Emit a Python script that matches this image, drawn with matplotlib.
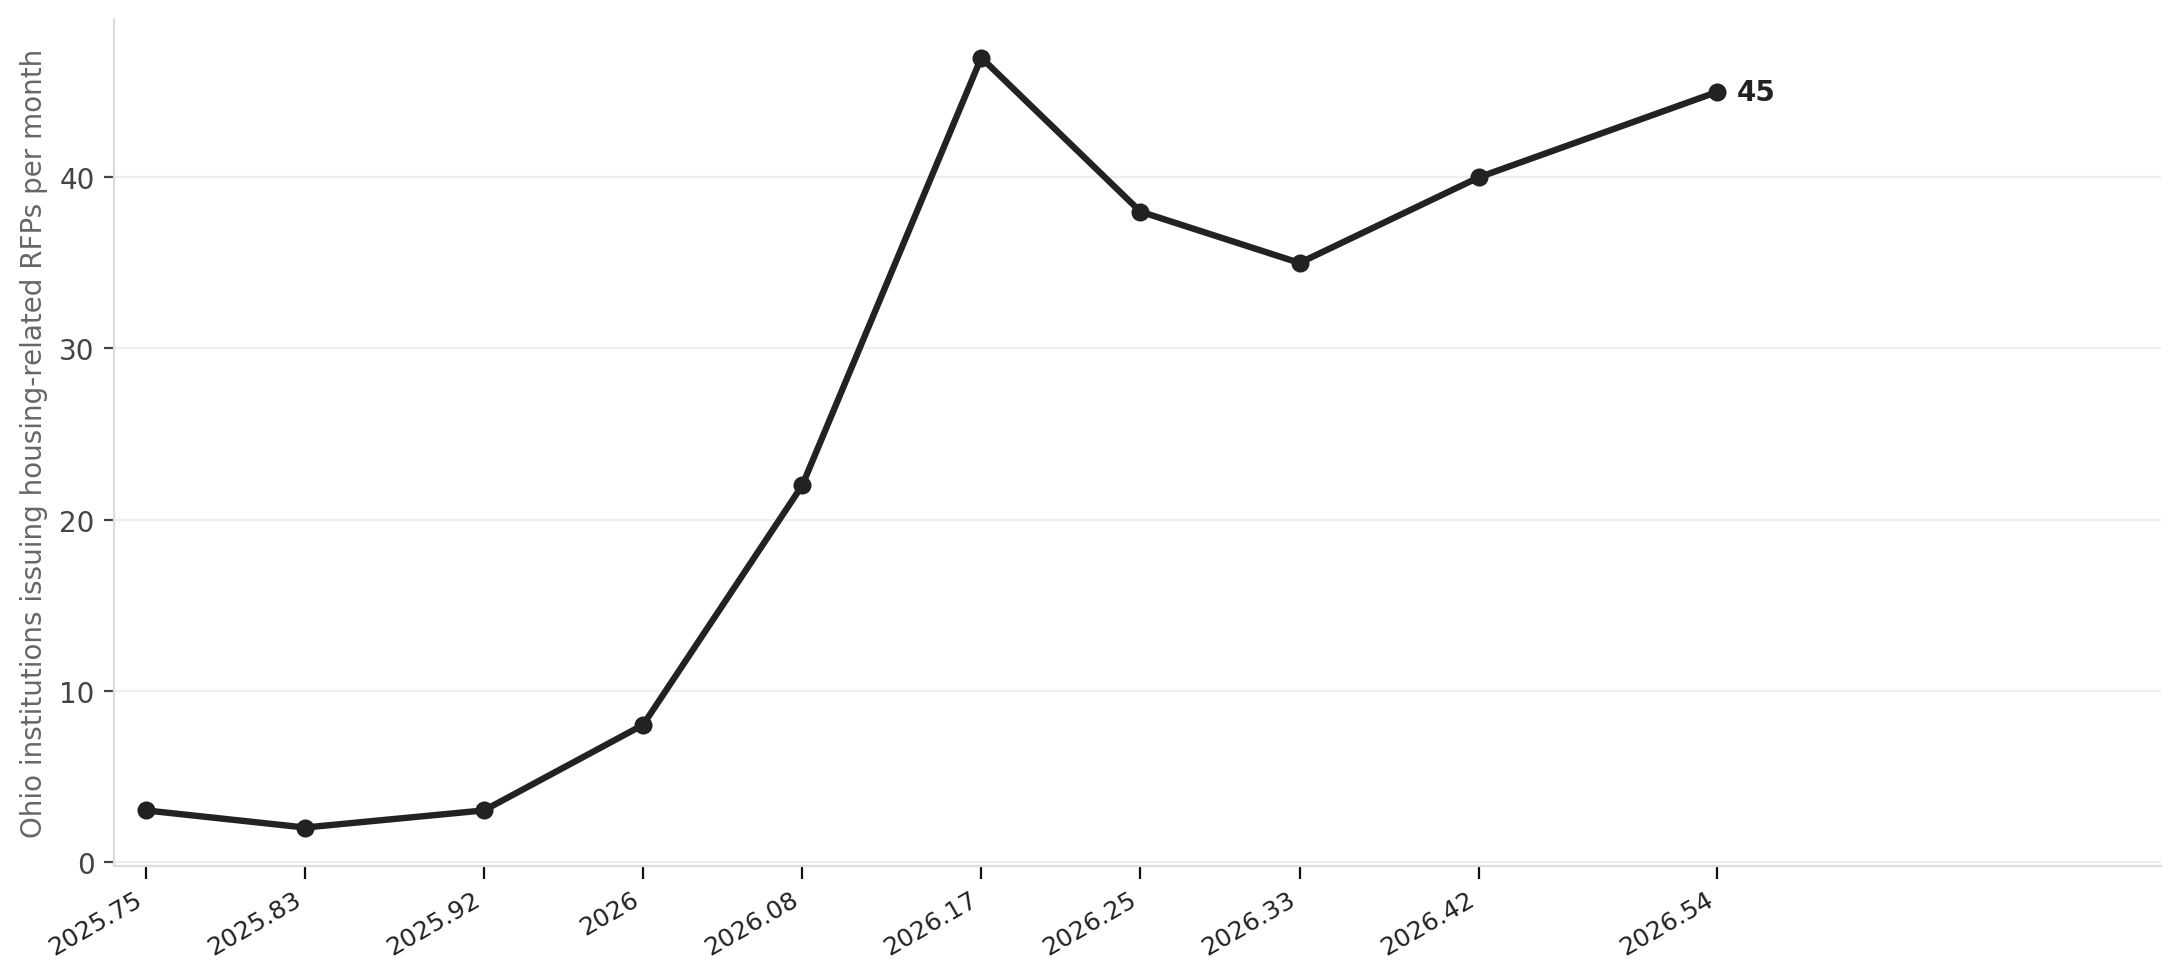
import numpy as np
import matplotlib
matplotlib.use("Agg")
import matplotlib.pyplot as plt

# data
x_vals = [2025.75, 2025.83, 2025.92, 2026.0, 2026.08, 2026.17, 2026.25, 2026.33, 2026.42, 2026.54]
x_labels = ["2025.75", "2025.83", "2025.92", "2026", "2026.08", "2026.17", "2026.25", "2026.33", "2026.42", "2026.54"]
rfp_counts = [3, 2, 3, 8, 22, 47, 38, 35, 40, 45]
y_label = "Ohio institutions issuing housing-related RFPs per month"

line_col = "#222222"

fig = plt.figure(figsize=(10.895, 4.895), dpi=200)
ax = fig.add_axes([0.0523, 0.1144, 0.9394, 0.8650])

ax.plot(x_vals, rfp_counts, color=line_col, lw=2.3, marker="o", ms=5.5, zorder=3)
ax.annotate(str(rfp_counts[-1]), (x_vals[-1], rfp_counts[-1]), xytext=(7, 0),
            textcoords="offset points", va="center", ha="left",
            fontsize=10, fontweight="bold", color=line_col)

ax.set_xlim(2025.734, 2026.763)
ax.set_xticks(x_vals)
ax.set_xticklabels(x_labels, rotation=30, ha="right", fontsize=9, color="#222222")
ax.set_yticks([0, 10, 20, 30, 40])
ax.tick_params(axis="y", labelsize=10, labelcolor="#444444", color="#444444", length=3.5, width=0.8)
ax.tick_params(axis="x", color="#111111", length=4.5, width=0.8, pad=3)

ax.yaxis.grid(True, color="#eeeeee", lw=0.8)
ax.set_axisbelow(True)

for s in ["top", "right"]:
    ax.spines[s].set_visible(False)
for s in ["left", "bottom"]:
    ax.spines[s].set_color("#dddddd")
    ax.spines[s].set_linewidth(0.8)

ax.set_ylabel(y_label, fontsize=10, color="#666666")

fig.savefig("out.png", dpi=200)
